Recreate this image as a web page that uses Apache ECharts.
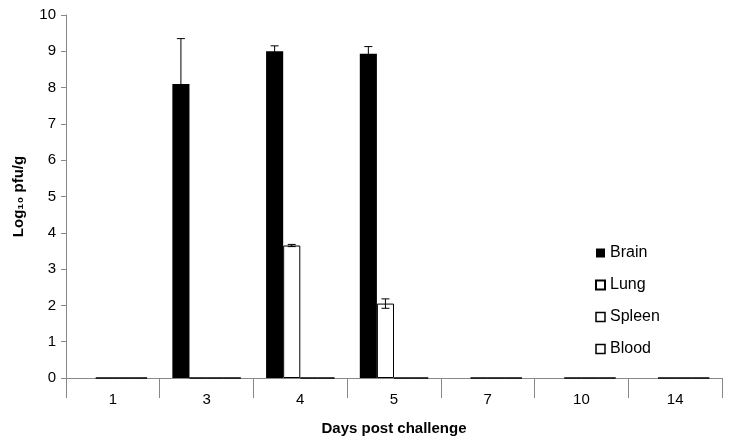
<!DOCTYPE html>
<html><head><meta charset="utf-8">
<script src="https://cdn.jsdelivr.net/npm/echarts@6/dist/echarts.min.js"></script>
<style>html,body{margin:0;background:#fff}#c{width:731px;height:442px}</style>
</head><body><div id="c"></div>
<script>
const days = ['1','3','4','5','7','10','14'];
const brain = [0, 8.1, 9.0, 8.93, 0, 0, 0];
const brainErr = [0, 1.25, 0.15, 0.2, 0, 0, 0];
const lung = [0, 0, 3.65, 2.05, 0, 0, 0];
const lungErr = [0, 0, 0.03, 0.13, 0, 0, 0];
const spleen = [0, 0, 0, 0, 0, 0, 0];
const blood = [0, 0, 0, 0, 0, 0, 0];

const chart = echarts.init(document.getElementById('c'));
function errSeries(vals, errs, idx) {
  return {
    type: 'custom', z: 10,
    data: vals.map((v, i) => [i, v, errs[i]]).filter(d => d[2] > 0),
    renderItem(params, api) {
      const i = api.value(0), v = api.value(1), e = api.value(2);
      const bw = api.size([1, 0])[0];
      const w = bw * 0.73 / 4;
      const cx = api.coord([i, 0])[0] - 2 * w + (idx + 0.5) * w;
      const top = api.coord([i, v + e])[1], bot = api.coord([i, v - e])[1];
      const s = {stroke: '#000', lineWidth: 1};
      return {type: 'group', children: [
        {type: 'line', shape: {x1: cx, y1: top, x2: cx, y2: bot}, style: s},
        {type: 'line', shape: {x1: cx - 4, y1: top, x2: cx + 4, y2: top}, style: s},
        {type: 'line', shape: {x1: cx - 4, y1: bot, x2: cx + 4, y2: bot}, style: s}
      ]};
    }
  };
}
const bs = {type: 'bar', barGap: '0%', barCategoryGap: '27%'};
chart.setOption({
  animation: false,
  textStyle: {fontFamily: 'Liberation Sans, Arial'},
  grid: {left: 66, right: 9, top: 15, bottom: 64},
  legend: {
    orient: 'vertical', left: 590, top: 240, itemGap: 16, itemWidth: 9, itemHeight: 9,
    textStyle: {fontSize: 16, color: '#000'},
    data: [
      {name: 'Brain', icon: 'rect'},
      {name: 'Lung', icon: 'rect'},
      {name: 'Spleen', icon: 'rect', itemStyle: {color: '#fff', borderColor: '#000', borderWidth: 1.5}},
      {name: 'Blood', icon: 'rect', itemStyle: {color: '#fff', borderColor: '#000', borderWidth: 1.5}}
    ]
  },
  xAxis: {
    type: 'category', data: days,
    name: 'Days post challenge', nameLocation: 'middle', nameGap: 43,
    nameTextStyle: {fontSize: 15, fontWeight: 'bold', color: '#000'},
    axisLine: {lineStyle: {color: '#888'}},
    axisTick: {show: true, length: 20, lineStyle: {color: '#888'}},
    axisLabel: {fontSize: 15, color: '#000', margin: 14}
  },
  yAxis: {
    type: 'value', min: 0, max: 10, interval: 1,
    name: 'Log₁₀ pfu/g', nameLocation: 'middle', nameGap: 40,
    nameTextStyle: {fontSize: 15, fontWeight: 'bold', color: '#000'},
    axisLine: {show: true, lineStyle: {color: '#888'}},
    axisTick: {show: true, length: 5, lineStyle: {color: '#888'}},
    splitLine: {show: false},
    axisLabel: {fontSize: 15, color: '#000', margin: 10}
  },
  series: [
    Object.assign({name: 'Brain', data: brain, itemStyle: {color: '#000'}}, bs),
    Object.assign({name: 'Lung', data: lung, itemStyle: {color: '#fff', borderColor: '#000', borderWidth: 1}}, bs),
    Object.assign({name: 'Spleen', data: spleen, itemStyle: {color: '#fff', borderColor: '#000', borderWidth: 1}}, bs),
    Object.assign({name: 'Blood', data: blood, itemStyle: {color: '#fff', borderColor: '#000', borderWidth: 1}}, bs),
    errSeries(brain, brainErr, 0),
    errSeries(lung, lungErr, 1)
  ]
});
</script></body></html>
